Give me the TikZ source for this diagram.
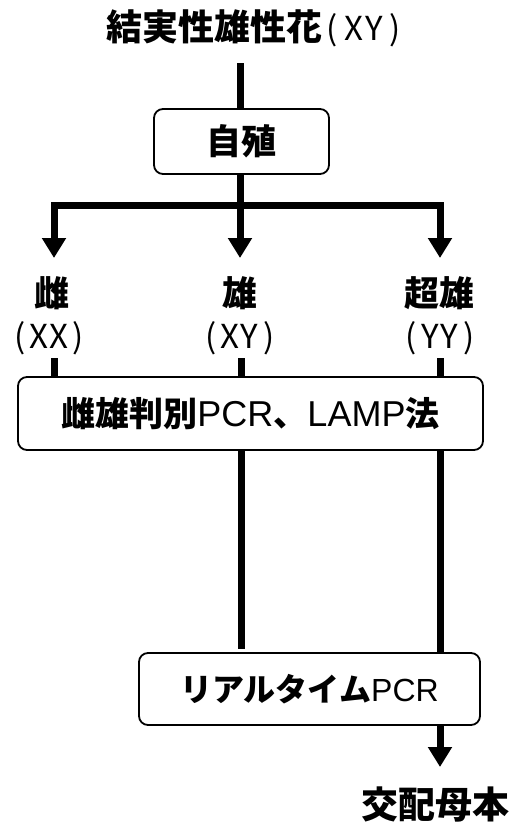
\documentclass[tikz,border=0pt]{standalone}
\usepackage{fontspec}
\newfontfamily\jp{Noto Sans CJK JP}
\newfontfamily\ar{Liberation Sans}
\usetikzlibrary{arrows.meta}
\newcommand\hw[2]{\makebox[#1pt]{#2}}
\begin{document}
\begin{tikzpicture}[x=1pt,y=-1pt,
  conn/.style={line width=7pt},
  arr/.style={line width=7pt,line join=miter,-{Triangle[width=23pt,length=20pt]}},
  box/.style={draw,line width=1.8pt,rounded corners=9pt,inner sep=0pt,fill=white},
  lbl/.style={inner sep=0pt}]
\useasboundingbox (0,0) rectangle (512,822);
% title
\node[lbl] (title) at (256,28) {\jp\bfseries\fontsize{36}{36}\selectfont 結実性雄性花{\mdseries\fontsize{33}{33}\selectfont\hw{21}{(}\hw{21}{X}\hw{21}{Y}\hw{21}{)}}};
\coordinate (t0) at (240,63);
\node[box,minimum width=175,minimum height=65] (self) at (241.5,141.5) {\jp\bfseries\fontsize{35}{35}\selectfont 自殖};
\draw[conn] (t0) -- (t0 |- self.north);
\coordinate (bm) at (240,205);
\coordinate (tl) at (54,258);
\coordinate (tm) at (240,258);
\coordinate (tr) at (440,258);
\draw[conn] (self.south -| bm) -- (bm);
\draw[arr] (bm) -| (tl);
\draw[arr] (bm) -| (tr);
\draw[arr] (bm) -- (tm);
% labels
\node[lbl] (fem) at (52,293) {\jp\bfseries\fontsize{35}{35}\selectfont 雌};
\node[lbl] (femg) at (49,338) {\jp\fontsize{33}{33}\selectfont\hw{19.5}{(}\hw{19.5}{X}\hw{19.5}{X}\hw{19.5}{)}};
\node[lbl] (mal) at (240,293) {\jp\bfseries\fontsize{35}{35}\selectfont 雄};
\node[lbl] (malg) at (240,338) {\jp\fontsize{33}{33}\selectfont\hw{19.5}{(}\hw{19.5}{X}\hw{19.5}{Y}\hw{19.5}{)}};
\node[lbl] (sup) at (439,293) {\jp\bfseries\fontsize{35}{35}\selectfont 超雄};
\node[lbl] (supg) at (440,338) {\jp\fontsize{33}{33}\selectfont\hw{19.5}{(}\hw{19.5}{Y}\hw{19.5}{Y}\hw{19.5}{)}};
% PCR box
\node[box,minimum width=465,minimum height=73] (pcr) at (250.5,413.5) {\jp\bfseries\fontsize{34}{34}\selectfont 雌雄判別{\ar\mdseries\fontsize{36}{36}\selectfont PCR}、{\ar\mdseries\fontsize{36}{36}\selectfont LAMP}法};
\coordinate (sl) at (54,358);
\coordinate (sm) at (241,358);
\coordinate (sr) at (440,358);
\draw[conn] (sl) -- (sl |- pcr.north);
\draw[conn] (sm) -- (sm |- pcr.north);
\draw[conn] (sr) -- (sr |- pcr.north);
% RT box
\node[box,minimum width=341,minimum height=72] (rt) at (309.5,689) {\jp\bfseries\fontsize{32}{32}\selectfont リアルタイム{\ar\mdseries\fontsize{32}{32}\selectfont PCR}};
\coordinate (ml) at (241,649);
\draw[conn] (ml |- pcr.south) -- (ml);
\draw[conn] (sr |- pcr.south) -- (sr |- rt.north);
\coordinate (tb) at (440,767);
\draw[arr] (tb |- rt.south) -- (tb);
\node[lbl] (par) at (435,805) {\jp\bfseries\fontsize{37}{37}\selectfont 交配母本};
\end{tikzpicture}
\end{document}
